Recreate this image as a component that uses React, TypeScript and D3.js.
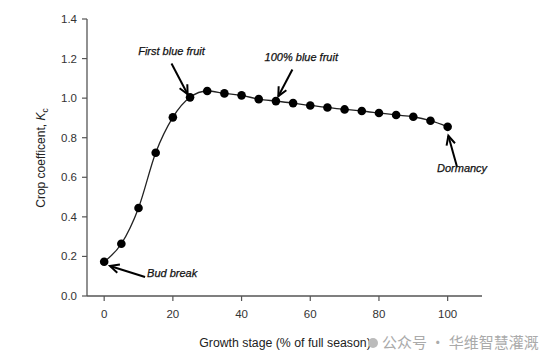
import React from "react";
import * as d3 from "d3";

const stages = [0, 5, 10, 15, 20, 25, 30, 35, 40, 45, 50, 55, 60, 65, 70, 75, 80, 85, 90, 95, 100];
const kc = [0.173, 0.264, 0.445, 0.724, 0.903, 1.004, 1.036, 1.024, 1.014, 0.995, 0.985, 0.975, 0.963, 0.953, 0.943, 0.935, 0.925, 0.915, 0.906, 0.886, 0.855];
const xTicks = [0, 20, 40, 60, 80, 100];
const yTicks = [0, 0.2, 0.4, 0.6, 0.8, 1.0, 1.2, 1.4];

// annotation label, text anchor (data units), arrow tail and head (data units)
const notes = [
  { text: "First blue fruit", tx: 9.9, ty: 1.22, x1: 19.6, y1: 1.175, x2: 24.3, y2: 1.02 },
  { text: "100% blue fruit", tx: 46.7, ty: 1.19, x1: 54.8, y1: 1.145, x2: 50.7, y2: 1.01 },
  { text: "Dormancy", tx: 96.9, ty: 0.625, x1: 102.7, y1: 0.655, x2: 100.2, y2: 0.81 },
  { text: "Bud break", tx: 12.5, ty: 0.095, x1: 11.9, y1: 0.096, x2: 1.7, y2: 0.152 },
];

export default function App() {
  const width = 553;
  const height = 364;
  const x = d3.scaleLinear().domain([-5, 110]).range([87, 482]);
  const y = d3.scaleLinear().domain([0, 1.4]).range([296, 19]);
  const line = d3
    .line<number>()
    .x((d, i) => x(stages[i]))
    .y((d) => y(d))
    .curve(d3.curveMonotoneX);
  const axisColor = "#555";
  const font = "'Liberation Sans', Arial, sans-serif";

  function arrowHead(n) {
    const x1 = x(n.x1), y1 = y(n.y1), x2 = x(n.x2), y2 = y(n.y2);
    const a = Math.atan2(y2 - y1, x2 - x1);
    const len = 10, spread = 0.45;
    const p1 = [x2 - len * Math.cos(a - spread), y2 - len * Math.sin(a - spread)];
    const p2 = [x2 - len * Math.cos(a + spread), y2 - len * Math.sin(a + spread)];
    return `M${p1[0]},${p1[1]}L${x2},${y2}L${p2[0]},${p2[1]}`;
  }

  return (
    <svg width={width} height={height} style={{ position: "absolute", left: 0, top: 0, background: "#fff" }} fontFamily={font}>
      {/* axes */}
      <line x1={87} x2={87} y1={y(1.4)} y2={y(0)} stroke={axisColor} strokeWidth={1.3} />
      <line x1={87} x2={482} y1={y(0)} y2={y(0)} stroke={axisColor} strokeWidth={1.3} />
      {yTicks.map((t) => (
        <g key={"y" + t}>
          <line x1={82} x2={87} y1={y(t)} y2={y(t)} stroke={axisColor} strokeWidth={1.2} />
          <text x={77} y={y(t)} dy="0.35em" textAnchor="end" fontSize={11.5} fill="#333">
            {t.toFixed(1)}
          </text>
        </g>
      ))}
      {xTicks.map((t) => (
        <g key={"x" + t}>
          <line x1={x(t)} x2={x(t)} y1={296} y2={301} stroke={axisColor} strokeWidth={1.2} />
          <text x={x(t)} y={318} textAnchor="middle" fontSize={11.5} fill="#333">
            {t}
          </text>
        </g>
      ))}

      {/* axis titles */}
      <text x={285} y={347} textAnchor="middle" fontSize={12.3} fill="#222">
        Growth stage (% of full season)
      </text>
      <text transform={`translate(45,${158}) rotate(-90)`} textAnchor="middle" fontSize={12} fill="#222">
        Crop coefficent, <tspan fontStyle="italic">K</tspan>
        <tspan fontSize={8.5} dy={3}>c</tspan>
      </text>

      {/* curve and points */}
      <path d={line(kc) || ""} fill="none" stroke="#222" strokeWidth={1.3} />
      {kc.map((v, i) => (
        <circle key={i} cx={x(stages[i])} cy={y(v)} r={4.3} fill="#000" />
      ))}

      {/* annotations */}
      {notes.map((n) => (
        <g key={n.text}>
          <text x={x(n.tx)} y={y(n.ty)} fontSize={11} fontStyle="italic" fill="#111" stroke="#111" strokeWidth={0.25}>
            {n.text}
          </text>
          <line x1={x(n.x1)} y1={y(n.y1)} x2={x(n.x2)} y2={y(n.y2)} stroke="#000" strokeWidth={2} />
          <path d={arrowHead(n)} fill="none" stroke="#000" strokeWidth={2} />
        </g>
      ))}

      {/* watermark */}
      <circle cx={373} cy={343} r={5} fill="#bbb" />
      <text x={382} y={348} fontSize={15} fill="#aaa" fontFamily="'Noto Sans CJK SC', sans-serif">
        公众号 · 华维智慧灌溉
      </text>
    </svg>
  );
}
